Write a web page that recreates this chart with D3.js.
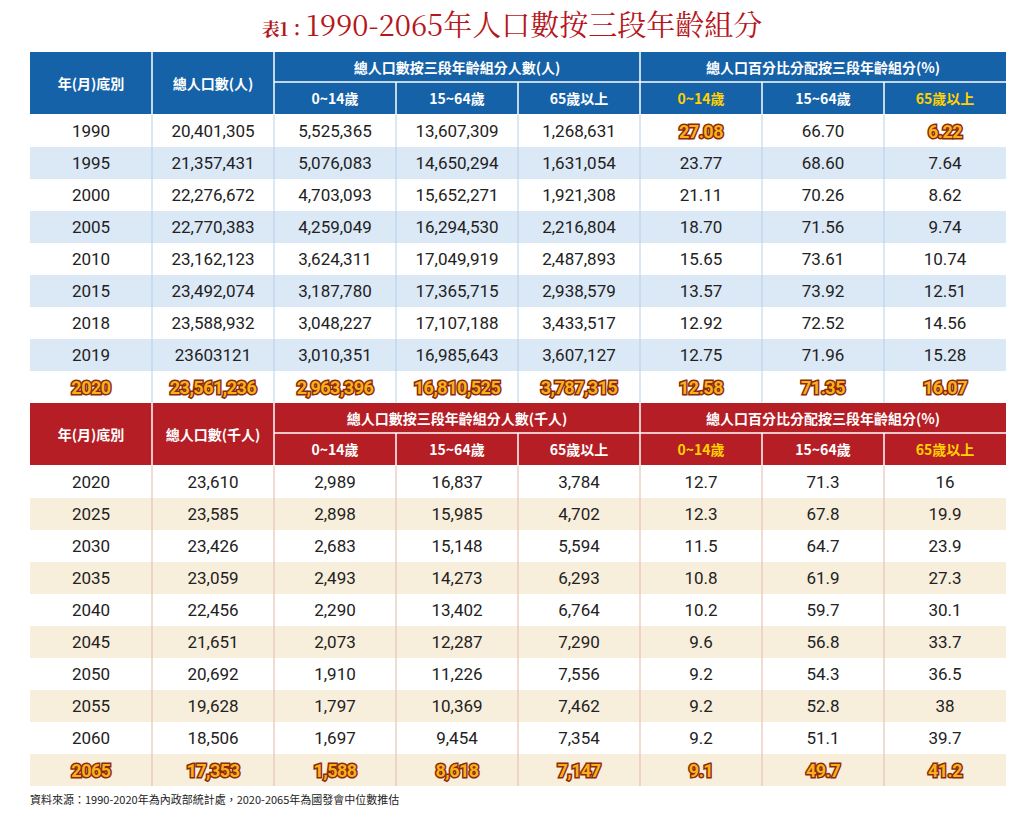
<!DOCTYPE html>
<html><head><meta charset="utf-8">
<script src="https://cdn.jsdelivr.net/npm/d3@7"></script>
<style>body{margin:0;background:#fff}</style>
</head><body><div id="chart"></div>
<script>
const years1 = ["1990","1995","2000","2005","2010","2015","2018","2019","2020"];
const total1 = ["20,401,305","21,357,431","22,276,672","22,770,383","23,162,123","23,492,074","23,588,932","23603121","23,561,236"];
const young1 = ["5,525,365","5,076,083","4,703,093","4,259,049","3,624,311","3,187,780","3,048,227","3,010,351","2,963,396"];
const work1 = ["13,607,309","14,650,294","15,652,271","16,294,530","17,049,919","17,365,715","17,107,188","16,985,643","16,810,525"];
const old1 = ["1,268,631","1,631,054","1,921,308","2,216,804","2,487,893","2,938,579","3,433,517","3,607,127","3,787,315"];
const youngP1 = ["27.08","23.77","21.11","18.70","15.65","13.57","12.92","12.75","12.58"];
const workP1 = ["66.70","68.60","70.26","71.56","73.61","73.92","72.52","71.96","71.35"];
const oldP1 = ["6.22","7.64","8.62","9.74","10.74","12.51","14.56","15.28","16.07"];

const years2 = ["2020","2025","2030","2035","2040","2045","2050","2055","2060","2065"];
const total2 = ["23,610","23,585","23,426","23,059","22,456","21,651","20,692","19,628","18,506","17,353"];
const young2 = ["2,989","2,898","2,683","2,493","2,290","2,073","1,910","1,797","1,697","1,588"];
const work2 = ["16,837","15,985","15,148","14,273","13,402","12,287","11,226","10,369","9,454","8,618"];
const old2 = ["3,784","4,702","5,594","6,293","6,764","7,290","7,556","7,462","7,354","7,147"];
const youngP2 = ["12.7","12.3","11.5","10.8","10.2","9.6","9.2","9.2","9.2","9.1"];
const workP2 = ["71.3","67.8","64.7","61.9","59.7","56.8","54.3","52.8","51.1","49.7"];
const oldP2 = ["16","19.9","23.9","27.3","30.1","33.7","36.5","38","39.7","41.2"];

const ageLabels = ["0~14歲","15~64歲","65歲以上"];

const W = 1024, H = 820;
const svg = d3.select('#chart').append('svg').attr('width', W).attr('height', H);
const font = '"Noto Sans CJK TC", "Noto Sans", sans-serif';

const x = d3.scaleBand().domain(d3.range(8)).range([30, 1006]);
const cw = x.bandwidth();

// title
const title = svg.append('text').attr('x', 512).attr('y', 36).attr('text-anchor', 'middle')
  .attr('fill', '#b5171d').style('font-family', '"Noto Serif CJK TC","DejaVu Serif",' + font);
title.append('tspan').text('表1：').attr('font-size', 18).attr('font-weight', 'bold');
title.append('tspan').text('1990-2065年人口數按三段年齡組分').attr('font-size', 29);

function block(top, hdr, sub, unit, rows, bg, alt, lineCol) {
  const h1 = 30, h2 = 32;
  const g = svg.append('g');
  g.append('rect').attr('x', 30).attr('y', top).attr('width', 976).attr('height', h1 + h2).attr('fill', hdr);
  const hs = {fill: '#fff', size: 13.5};
  const htext = (tx, ty, t, col) => g.append('text').attr('x', tx).attr('y', ty).attr('text-anchor', 'middle')
    .attr('dominant-baseline', 'central').attr('fill', col || '#fff').attr('font-size', 14).attr('font-weight', 'bold')
    .style('font-family', font).text(t);
  htext(x(0) + cw / 2, top + (h1 + h2) / 2, '年(月)底別');
  htext(x(1) + cw / 2, top + (h1 + h2) / 2, unit[0]);
  htext(x(2) + cw * 1.5, top + h1 / 2, unit[1]);
  htext(x(5) + cw * 1.5, top + h1 / 2, '總人口百分比分配按三段年齡組分(%)');
  ageLabels.concat(ageLabels).forEach((t, i) => {
    const col = (i === 3 || i === 5) ? '#ffd200' : '#fff';
    htext(x(i + 2) + cw / 2, top + h1 + h2 / 2, t, col);
  });
  // header lines
  [1, 2, 5].forEach(i => g.append('line').attr('x1', x(i)).attr('x2', x(i)).attr('y1', top).attr('y2', top + h1 + h2).attr('stroke', '#fff').attr('stroke-width', 1.5));
  [3, 4, 6, 7].forEach(i => g.append('line').attr('x1', x(i)).attr('x2', x(i)).attr('y1', top + h1).attr('y2', top + h1 + h2).attr('stroke', '#fff').attr('stroke-width', 1.5));
  g.append('line').attr('x1', x(2)).attr('x2', 1006).attr('y1', top + h1).attr('y2', top + h1).attr('stroke', '#fff').attr('stroke-width', 1.5);

  const n = rows[0].length;
  const y = d3.scaleBand().domain(d3.range(n)).range([top + h1 + h2 + 1, top + h1 + h2 + 1 + n * 32]);
  const body = g.append('g');
  body.selectAll('rect.row').data(d3.range(n)).join('rect')
    .attr('x', 30).attr('width', 976).attr('y', d => y(d)).attr('height', y.bandwidth())
    .attr('fill', d => d % 2 ? alt : '#fff');
  d3.range(1, 8).forEach(i => body.append('line').attr('x1', x(i)).attr('x2', x(i))
    .attr('y1', y(0)).attr('y2', y(n - 1) + y.bandwidth()).attr('stroke', lineCol).attr('stroke-width', 1));
  rows.forEach((col, ci) => {
    col.forEach((v, ri) => {
      const hl = ri === n - 1 || (bg && ri === 0 && (ci === 5 || ci === 7));
      body.append('text').attr('x', x(ci) + cw / 2).attr('y', y(ri) + y.bandwidth() / 2)
        .attr('text-anchor', 'middle').attr('dominant-baseline', 'central')
        .attr('font-size', hl ? 18 : 17).attr('font-weight', hl ? 'bold' : 'normal')
        .attr('fill', hl ? '#f7b21b' : '#222')
        .attr('stroke', hl ? '#8c2a0c' : 'none').attr('stroke-width', hl ? 3 : 0)
        .attr('paint-order', 'stroke').attr('letter-spacing', hl ? -0.5 : 0)
        .style('font-family', '"Liberation Sans Narrow","Roboto","Noto Sans",sans-serif').text(v);
    });
  });
}

block(52, '#1562a8', null, ['總人口數(人)', '總人口數按三段年齡組分人數(人)'],
  [years1, total1, young1, work1, old1, youngP1, workP1, oldP1], true, '#dbe8f6', '#b8cfe8');
block(403, '#b51e24', null, ['總人口數(千人)', '總人口數按三段年齡組分人數(千人)'],
  [years2, total2, young2, work2, old2, youngP2, workP2, oldP2], false, '#f8eedc', '#e3b9a8');

svg.append('text').attr('x', 30).attr('y', 804).attr('font-size', 11).attr('fill', '#222')
  .style('font-family', font).text('資料來源：1990-2020年為內政部統計處，2020-2065年為國發會中位數推估');
</script></body></html>
